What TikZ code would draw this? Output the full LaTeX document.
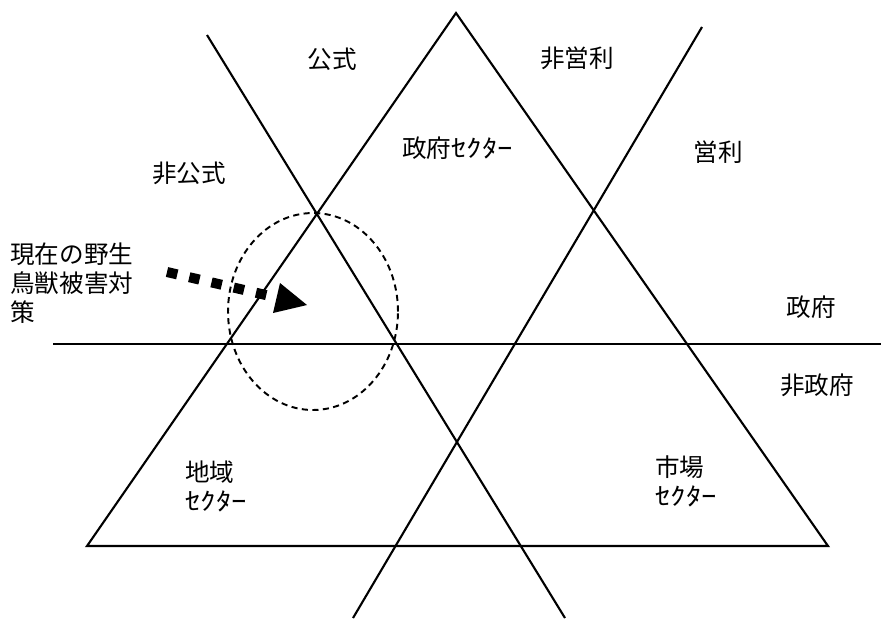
\documentclass[tikz,border=0pt]{standalone}
\usepackage{fontspec}
\newfontfamily\jp{Noto Sans CJK JP}
\newfontfamily\jpkana[FakeStretch=1.25]{Noto Sans CJK JP}
\newcommand{\sektor}{{\jpkana ｾｸﾀｰ}}
\begin{document}
\begin{tikzpicture}[x=0.02cm,y=-0.02cm,
  lbl/.style={font=\jp\fontsize{14}{16.5}\selectfont, inner sep=0pt},
  ln/.style={line width=1.2pt},
]
\useasboundingbox[fill=white] (0,0) rectangle (881,620);
% big triangle
\coordinate (T) at (456,13);
\coordinate (BL) at (87,546);
\coordinate (BR) at (828,546);
\draw[ln, line join=miter] (T) -- (BL) -- (BR) -- cycle;
% crossing lines
\coordinate (a1) at (207,35); \coordinate (a2) at (565,618);
\coordinate (b1) at (702,27); \coordinate (b2) at (353,618);
\coordinate (h1) at (53,344); \coordinate (h2) at (881,344);
\draw[ln] (a1) -- (a2);
\draw[ln] (b1) -- (b2);
\draw[line width=1.6pt] (h1) -- (h2);
% dashed ellipse
\coordinate (ec) at (313,311.5);
\draw[line width=1.1pt, dash pattern=on 3.5pt off 2.5pt] (ec) ellipse [x radius=1.7cm, y radius=1.97cm];
% dotted arrow
\coordinate (arrS) at (167,272);
\coordinate (arrE) at (270,296);
\draw[line width=5.7pt, dash pattern=on 6pt off 7pt] (arrS) -- (arrE);
\coordinate (hA) at (280,283);
\coordinate (hTip) at (307,305);
\coordinate (hB) at (273,313);
\fill (hA) -- (hTip) -- (hB) -- cycle;
% labels
\node[lbl] (koushiki) at (332,59) {公式};
\node[lbl] (hieiri) at (577,58) {非営利};
\node[lbl, anchor=west] (seifuS) at (402,148) {政府\sektor};
\node[lbl] (eiri) at (718,152) {営利};
\node[lbl] (hikoushiki) at (189,173) {非公式};
\node[lbl, anchor=north west, align=left] (genzai) at (10,242) {現在の野生\\鳥獣被害対\\策};
\node[lbl] (seifu) at (811,307) {政府};
\node[lbl] (hiseifu) at (817,385) {非政府};
\node[lbl, anchor=west, align=left] (chiiki) at (185,486) {地域\\\sektor};
\node[lbl, anchor=west, align=left] (shijou) at (655,481) {市場\\\sektor};
\end{tikzpicture}
\end{document}
